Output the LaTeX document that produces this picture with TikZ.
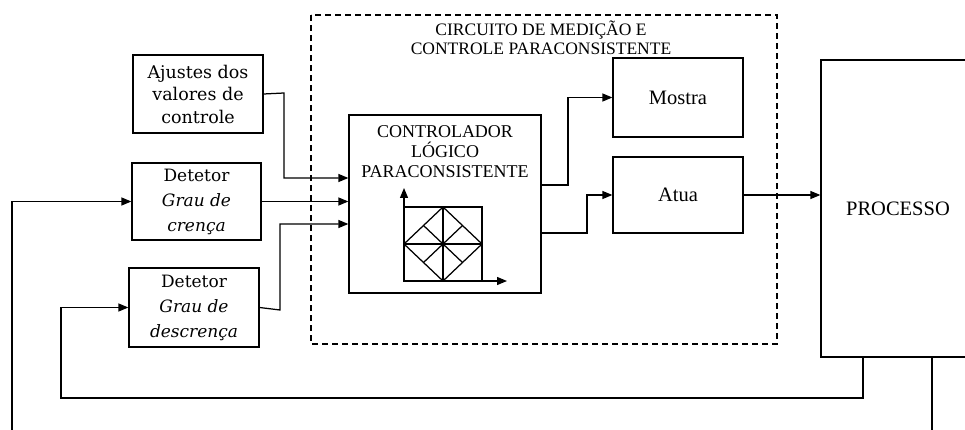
\documentclass[tikz,border=0pt]{standalone}
\usepackage{fontspec}
\setmainfont{Liberation Serif}
\newfontfamily\cambria{DejaVu Serif}
\usetikzlibrary{arrows.meta,positioning}

\begin{document}
\begin{tikzpicture}[
  x=1pt,y=-1pt,>={Triangle[length=10pt,width=8pt]},
  blk/.style={draw, line width=1.25pt, inner sep=0pt, align=center},
  tms/.style={font=\fontsize{18}{20}\selectfont},
  big/.style={font=\fontsize{20.5}{23}\selectfont},
  cmb/.style={font=\cambria\fontsize{17}{25}\selectfont},
  wire/.style={line width=1.25pt},
  arr/.style={->, line width=1.25pt},
]
\useasboundingbox (0,0) rectangle (965,430);
% circuito de medicao e controle
\draw[line width=1.25pt,dash pattern=on 6pt off 4pt] (311,15) rectangle (777,344);
\node[tms,align=center,font=\fontsize{17.5}{19}\selectfont] (titulo) at (541,37.5) {CIRCUITO DE MEDIÇÃO E\\CONTROLE PARACONSISTENTE};
% blocos
\node[blk,cmb,font=\cambria\fontsize{17.5}{22.5}\selectfont,minimum width=130pt,minimum height=78pt] (ajustes) at (198,94) {Ajustes dos\\valores de\\controle};
\node[blk,cmb,minimum width=129pt,minimum height=77pt] (det1) at (196.5,201.5) {Detetor\\\textit{Grau de}\\\textit{crença}};
\node[blk,cmb,minimum width=130pt,minimum height=79pt] (det2) at (194,307.5) {Detetor\\\textit{Grau de}\\\textit{descrença}};
\node[blk,minimum width=192pt,minimum height=178pt] (ctrl) at (445,204) {};
\node[tms,align=center] (ctrltxt) at (445,152) {CONTROLADOR\\LÓGICO\\PARACONSISTENTE};
\node[blk,big,minimum width=130pt,minimum height=79pt] (mostra) at (678,97.5) {Mostra};
\node[blk,big,minimum width=130pt,minimum height=76pt] (atua) at (678,195) {Atua};
\node[blk,big,minimum width=154pt,minimum height=297pt] (processo) at (898,208.5) {PROCESSO};
% reticulado dentro do controlador
\coordinate (orig) at (404,281);
\draw[wire] (orig) rectangle (482,207);
\draw[wire] (443,207) -- (482,244) -- (443,281) -- (404,244) -- cycle;
\draw[wire] (443,207) -- (443,281); \draw[wire] (404,244) -- (482,244);
\draw[wire] (423.5,225.5) -- (462.5,262.5); \draw[wire] (462.5,225.5) -- (423.5,262.5);
\draw[arr] (orig) -- (404,188); \draw[arr] (orig) -- (507,281);
% entradas
\draw[arr] (ajustes.east) -- (284,93) |- (ctrl.west |- 0,178);
\draw[arr] (det1.east) -- (ctrl.west |- det1.east);
\draw[arr] (det2.east) -- (280,310) |- (ctrl.west |- 0,224);
% saidas
\draw[arr] (ctrl.east |- 0,185) -- (568,185) |- (mostra.west);
\draw[arr] (ctrl.east |- 0,233) -- (587,233) |- (atua.west);
\draw[arr] (atua.east) -- (processo.west |- atua.east);
% realimentacao
\coordinate (fbR) at (932,432);
\coordinate (fbL) at (12,432);
\draw[arr] (processo.south -| 863,0) -- (863,398) -| (61,330) |- (det2.west);
\draw[wire] (processo.south -| fbR) -- (fbR);
\draw[arr] (fbL) |- (det1.west);
\end{tikzpicture}
\end{document}
